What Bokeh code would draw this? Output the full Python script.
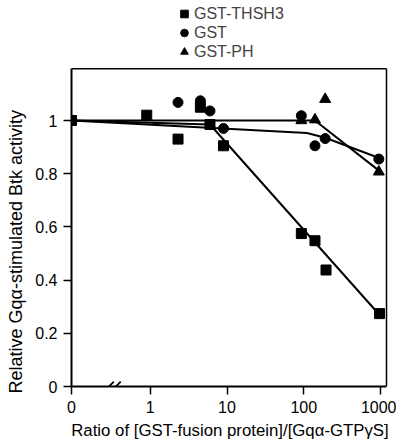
import numpy as np
from bokeh.plotting import figure
from bokeh.models import Range1d, FixedTicker, Legend, LegendItem, Arrow, Title
from bokeh.embed import file_html
from bokeh.resources import INLINE

# ---------------- data ----------------
ZERO_POS = -1.026  # axis position used for ratio 0 (left of the axis break)
X_MAX = 3.078      # right edge of the plot box (log10 units)
Y_MAX = 1.195      # top edge of the plot box

x_ticks = [0, 1, 10, 100, 1000]
x_tick_labels = ["0", "1", "10", "100", "1000"]
y_ticks = [0, 0.2, 0.4, 0.6, 0.8, 1.0]
y_tick_labels = ["0", "0.2", "0.4", "0.6", "0.8", "1"]

thsh3_ratio = [0, 0.9, 2.3, 4.5, 6, 9, 93, 140, 195, 970]
thsh3_act = [1.0, 1.02, 0.93, 1.05, 0.985, 0.905, 0.575, 0.548, 0.438, 0.274]
thsh3_fit_ratio = [0, 6, 1000]
thsh3_fit_act = [1.0, 0.985, 0.265]

gst_ratio = [0, 2.3, 4.5, 6, 9, 93, 140, 190, 950]
gst_act = [1.0, 1.068, 1.074, 1.036, 0.97, 1.018, 0.905, 0.932, 0.855]
gst_fit_ratio = [0, 110, 190, 1000]
gst_fit_act = [1.0, 0.953, 0.935, 0.857]

ph_ratio = [0, 93, 140, 190, 950]
ph_act = [1.0, 1.0, 1.003, 1.08, 0.807]
ph_fit_ratio = [0, 140, 1000]
ph_fit_act = [1.0, 1.0, 0.807]


def pos(r):
    return [ZERO_POS if v == 0 else float(np.log10(v)) for v in r]


FONT = "Liberation Sans"

# frame spans page y 2..386 (266 px per unit), x 70..388 (77 px per decade)
p = figure(width=396, height=446, output_backend="svg", toolbar_location=None,
           x_range=Range1d(ZERO_POS, X_MAX + 2 / 77), y_range=Range1d(0, 384 / 266),
           min_border_left=70, min_border_right=8, min_border_top=2, min_border_bottom=60)
p.background_fill_color = "white"
p.border_fill_color = "white"
p.xgrid.visible = False
p.ygrid.visible = False
p.outline_line_color = None

# axes
xt = pos(x_ticks)
p.xaxis.ticker = FixedTicker(ticks=xt)
p.xaxis.major_label_overrides = {t: l for t, l in zip(xt, x_tick_labels)}
p.xaxis.bounds = (ZERO_POS, X_MAX)
p.yaxis.ticker = FixedTicker(ticks=y_ticks)
p.yaxis.major_label_overrides = {t: l for t, l in zip(y_ticks, y_tick_labels)}
p.yaxis.bounds = (0, Y_MAX)
for ax in (p.xaxis, p.yaxis):
    ax.axis_line_width = 2
    ax.axis_line_color = "black"
    ax.major_tick_line_width = 1.5
    ax.major_tick_line_color = "black"
    ax.major_tick_out = 8
    ax.major_tick_in = 0
    ax.minor_tick_out = 0
    ax.minor_tick_in = 0
    ax.major_label_text_font = FONT
    ax.major_label_text_font_size = "16px"
    ax.major_label_text_color = "black"
    ax.major_label_standoff = 6
    ax.axis_label_text_font = FONT
    ax.axis_label_text_font_style = "normal"
    ax.axis_label_text_color = "black"

p.xaxis.axis_label = "Ratio of [GST-fusion protein]/[Gq\u03b1-GTP\u03b3S]"
p.xaxis.axis_label_text_font_size = "16.8px"
p.xaxis.axis_label_standoff = 5

# y-axis title, anchored just below the bottom of the plot box
p.add_layout(Title(text="Relative Gq\u03b1-stimulated Btk activity", align="left", offset=-7,
                   vertical_align="top", standoff=10,
                   text_font=FONT, text_font_size="18px", text_font_style="normal",
                   text_color="black"), "left")

# plot box: top and right edges
p.segment(x0=[ZERO_POS, X_MAX], y0=[Y_MAX, 0], x1=[X_MAX, X_MAX], y1=[Y_MAX, Y_MAX],
          line_color="black", line_width=1.5)

# fitted lines
p.line(pos(thsh3_fit_ratio), thsh3_fit_act, line_color="black", line_width=2)
p.line(pos(gst_fit_ratio), gst_fit_act, line_color="black", line_width=2)
p.line(pos(ph_fit_ratio), ph_fit_act, line_color="black", line_width=2)

# points
r_sq = p.scatter(pos(thsh3_ratio), thsh3_act, marker="square", size=10, color="black")
r_ci = p.scatter(pos(gst_ratio), gst_act, marker="circle", size=10, color="black")
r_tr = p.scatter(pos(ph_ratio), ph_act, marker="triangle", size=11, color="black")

# axis break on x axis
BRK = -0.475
for dx in (-0.045, 0.045):
    p.add_layout(Arrow(x_start=BRK + dx - 0.045, y_start=-0.008, x_end=BRK + dx + 0.045, y_end=0.018,
                       end=None, line_color="black", line_width=1.8))

# legend (above the plot box)
legend = Legend(items=[LegendItem(label="GST-THSH3", renderers=[r_sq]),
                       LegendItem(label="GST", renderers=[r_ci]),
                       LegendItem(label="GST-PH", renderers=[r_tr])],
                location=(103, 325), orientation="vertical",
                glyph_width=20, glyph_height=19, label_height=19, spacing=0,
                label_standoff=0, padding=0, margin=0,
                label_text_font=FONT, label_text_font_size="16px",
                border_line_color=None, background_fill_alpha=0)
p.add_layout(legend)

open("out.html", "w").write(file_html(p, INLINE))
